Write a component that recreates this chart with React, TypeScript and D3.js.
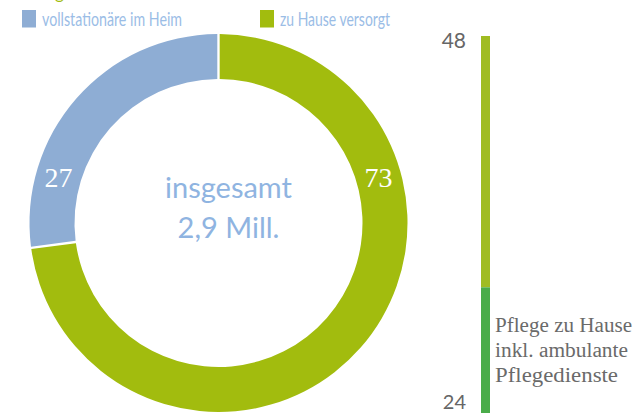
import React from "react";
import * as d3 from "d3";

const categories = ["zu Hause versorgt", "vollstationäre im Heim"];
const shares = [73, 27];
const donutColors = ["#a2bc0e", "#8eadd4"];
const centerLines = ["insgesamt", "2,9 Mill."];

const barSegments = ["zu Hause (ohne Dienste)", "Pflege zu Hause inkl. ambulante Pflegedienste"];
const barValues = [48, 24];
const barColors = ["#a0bc22", "#4aac4a"];
const barNoteLines = ["Pflege zu Hause", "inkl. ambulante", "Pflegedienste"];

const legendItems = ["vollstationäre im Heim", "zu Hause versorgt"];
const legendColors = ["#8eadd4", "#a2bc0e"];

const W = 639;
const H = 413;

export default function App() {
  const cx = 218.5;
  const cy = 223;
  const outerR = 189;
  const innerR = 144;

  const pie = d3
    .pie<number>()
    .sort(null)
    .value((d) => d)
    .padAngle(0.014);
  const arcs = pie(shares);
  const arc = d3
    .arc<d3.PieArcDatum<number>>()
    .innerRadius(innerR)
    .outerRadius(outerR)
    .padRadius(170);

  const labelArc = d3.arc<any>().innerRadius(innerR).outerRadius(outerR);
  const labelAngles = [(74 * Math.PI) / 180, -(74 * Math.PI) / 180];

  // bar
  const total = d3.sum(barValues);
  const y = d3.scaleLinear().domain([0, total]).range([413, 36]);
  const barX = 481;
  const barW = 9;
  const stacks: { y0: number; y1: number; c: string; v: number }[] = [];
  let acc = total;
  barValues.forEach((v, i) => {
    stacks.push({ y0: acc - v, y1: acc, c: barColors[i], v });
    acc -= v;
  });

  return (
    <svg
      width={W}
      height={H}
      style={{ position: "absolute", left: 0, top: 0, overflow: "hidden" }}
    >
      <rect width={W} height={H} fill="#fff" />
      {/* clipped title descender */}
      <text x={55} y={-1} fontFamily="Lato" fontSize={17} fill="#a2bc0e">
        g
      </text>
      {/* legend */}
      {legendItems.map((t, i) => {
        const lx = [22, 260][i];
        const widths = [140, 110];
        return (
          <g key={t}>
            <rect x={lx} y={10} width={14} height={17.5} fill={legendColors[i]} />
            <text
              x={lx + 20}
              y={25.5}
              fontFamily="Lato"
              fontSize={20}
              fill="#9bbde6"
              textLength={widths[i]}
              lengthAdjust="spacingAndGlyphs"
            >
              {t}
            </text>
          </g>
        );
      })}
      {/* donut */}
      <g transform={`translate(${cx},${cy})`}>
        {arcs.map((a, i) => (
          <path key={categories[i]} d={arc(a) || ""} fill={donutColors[i]} />
        ))}
        {shares.map((v, i) => {
          const [lx, ly] = labelArc.centroid({
            startAngle: labelAngles[i],
            endAngle: labelAngles[i],
          });
          return (
            <text
              key={"l" + i}
              x={lx}
              y={ly}
              dy="0.35em"
              textAnchor="middle"
              fontFamily="Liberation Serif"
              fontSize={28}
              fill="#fff"
            >
              {v}
            </text>
          );
        })}
        {centerLines.map((t, i) => (
          <text
            key={t}
            x={10}
            y={-25 + i * 40}
            textAnchor="middle"
            fontFamily="Lato"
            fontSize={29}
            fill="#8fb4e1"
          >
            {t}
          </text>
        ))}
      </g>
      {/* bar */}
      {stacks.map((s, i) => (
        <rect
          key={barSegments[i]}
          x={barX}
          y={y(s.y1)}
          width={barW}
          height={y(s.y0) - y(s.y1)}
          fill={s.c}
        />
      ))}
      <text
        x={466}
        y={48}
        textAnchor="end"
        fontFamily="Lato"
        fontSize={21}
        fill="#666"
      >
        {barValues[0]}
      </text>
      <text
        x={466}
        y={409}
        textAnchor="end"
        fontFamily="Lato"
        fontSize={20}
        fill="#666"
      >
        {barValues[1]}
      </text>
      {barNoteLines.map((t, i) => (
        <text
          key={t}
          x={495}
          y={332 + i * 25}
          fontFamily="Liberation Serif"
          fontSize={20}
          fill="#6a6a6a"
          textLength={[137, 133, 123][i]}
          lengthAdjust="spacingAndGlyphs"
        >
          {t}
        </text>
      ))}
    </svg>
  );
}
